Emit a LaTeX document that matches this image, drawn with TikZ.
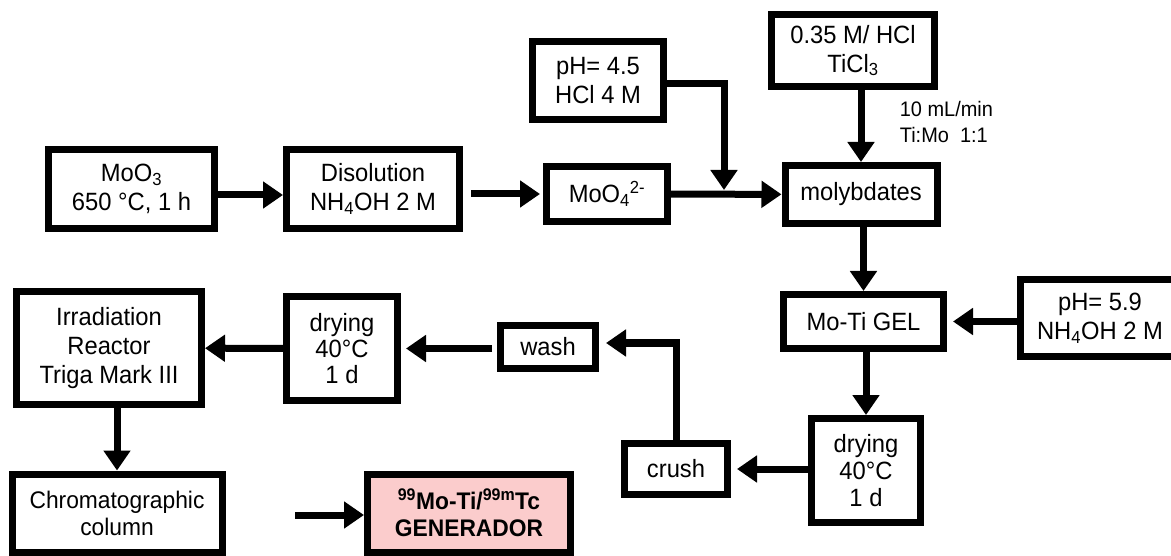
\documentclass[tikz,border=0pt]{standalone}
\usepackage{fontspec}
\setmainfont{Liberation Sans}[FakeStretch=0.95]
\usepackage{xcolor}
\usetikzlibrary{arrows.meta, positioning}

\definecolor{genpink}{RGB}{251,204,204}

\begin{document}
\begin{tikzpicture}[
  x=1pt, y=-1pt,
  box/.style={draw, line width=7pt, inner sep=4pt, align=center,
              font=\fontsize{25}{29}\selectfont},
  flow/.style={-{Triangle[length=20pt, width=26pt]}, line width=7pt},
  note/.style={align=left, font=\fontsize{21}{26}\selectfont}
]
  \useasboundingbox (0,0) rectangle (1171,556);

  % top row
  \node[box, minimum width=166pt, minimum height=79pt] (moo3) at (131.5,189) {MoO\textsubscript{3}\\650 °C, 1 h};
  \node[box, minimum width=173pt, minimum height=79pt] (disol) at (373,189) {Disolution\\NH\textsubscript{4}OH 2 M};
  \node[box, minimum width=121pt, minimum height=55pt] (moo4) at (607,194) {MoO\textsubscript{4}\textsuperscript{2-}};
  \node[box, minimum width=131pt, minimum height=78pt] (ph45) at (598,80.5) {pH= 4.5\\HCl 4 M};
  \node[box, minimum width=163pt, minimum height=72pt] (ticl) at (853,50.5) {0.35 M/ HCl\\TiCl\textsubscript{3}};
  \node[box, minimum width=152pt, minimum height=58pt] (molyb) at (861,194.5) {molybdates};
  \coordinate (join) at (724,190);

  % right column
  \node[box, minimum width=160pt, minimum height=54pt] (gel) at (863.5,321.5) {Mo-Ti GEL};
  \node[box, minimum width=160pt, minimum height=77pt] (ph59) at (1100,318) {pH= 5.9\\NH\textsubscript{4}OH 2 M};
  \node[box, minimum width=109pt, minimum height=104pt, font=\fontsize{25}{27}\selectfont] (dry2) at (866,470.5) {drying\\40°C\\1 d};
  \node[box, minimum width=103pt, minimum height=51pt] (crush) at (676,469) {crush};

  % lower left
  \node[box, minimum width=95pt, minimum height=43pt] (wash) at (548,347) {wash};
  \node[box, minimum width=111pt, minimum height=104pt, font=\fontsize{25}{26}\selectfont] (dry1) at (342,348.5) {drying\\40°C\\1 d};
  \node[box, minimum width=185pt, minimum height=113pt] (irrad) at (109,348) {Irradiation\\Reactor\\Triga Mark III};
  \node[box, minimum width=210pt, minimum height=78pt,
        font=\fontsize{24}{27}\selectfont] (chrom) at (117,513) {Chromatographic\\column};
  \node[box, fill=genpink, minimum width=203pt, minimum height=78pt,
        font=\fontsize{24}{27}\selectfont\bfseries] (gen) at (469,513) {\textsuperscript{99}Mo-Ti/\textsuperscript{99m}Tc\\GENERADOR};
  \coordinate (genin) at (295,515);

  \draw[flow] ([yshift=-6pt]moo3.east) -- ([yshift=-6pt]disol.west);
  \draw[flow, shorten <=8pt, shorten >=3pt] (disol.east |- moo4) -- (moo4);
  \draw[flow] ([yshift=-3pt]ph45.east) -| (join);
  \draw[flow] (moo4) -- (molyb);
  \draw[flow] (ticl.south -| molyb) -- node[note, pos=0.45, right=32pt] {10 mL/min\\Ti:Mo\ \ 1:1} (molyb);
  \draw[flow] (molyb.south -| gel) -- (gel);
  \draw[flow, shorten >=6pt] (ph59.west |- gel) -- (gel);
  \draw[flow] (gel.south -| dry2) -- (dry2);
  \draw[flow, shorten >=6pt] (dry2.west |- crush) -- (crush);
  \draw[flow, shorten >=7pt] (crush.north) |- ([yshift=4pt]wash.east);
  \draw[flow, shorten <=5pt, shorten >=5pt] (wash.west |- dry1) -- (dry1);
  \draw[flow] (dry1) -- (irrad);
  \draw[flow] (chrom.north |- irrad.south) -- (chrom);
  \draw[flow] (genin) -- (genin -| gen.west);
\end{tikzpicture}
\end{document}
